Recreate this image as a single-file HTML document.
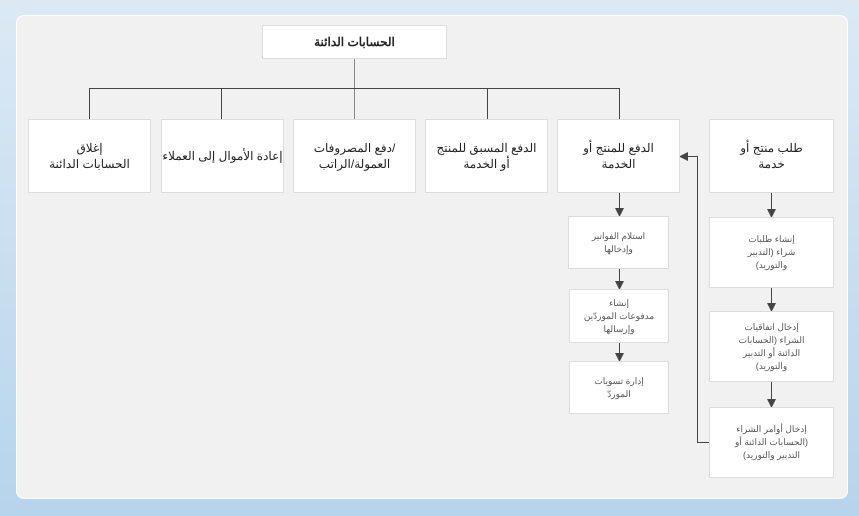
<!DOCTYPE html>
<html><head><meta charset="utf-8"><style>
body{margin:0;width:859px;height:516px;overflow:hidden;background:linear-gradient(#dce9f5,#b6d4ec);position:relative;font-family:"Liberation Sans","Noto Sans CJK SC",sans-serif}
#panel{position:absolute;left:16px;top:15px;width:830px;height:482px;background:#f1f1f1;border:1px solid #fff;border-radius:8px}
.b{position:absolute;background:#fff;border:1px solid #dcdcdc;box-sizing:border-box;display:flex;align-items:center;justify-content:center;text-align:center;direction:rtl;font-size:12px;color:#222;line-height:16px}
.s{font-size:9px;color:#555;line-height:13px}
svg{position:absolute;left:0;top:0}
</style></head><body>
<div id="panel"></div>
<svg width="859" height="516">
<g stroke="#444" stroke-width="1" fill="none">
<line x1="354.5" y1="58" x2="354.5" y2="119" stroke="#888"/>
<line x1="89.5" y1="88.5" x2="619.5" y2="88.5"/>
<line x1="89.5" y1="88" x2="89.5" y2="119"/>
<line x1="221.5" y1="88" x2="221.5" y2="119"/>
<line x1="487.5" y1="88" x2="487.5" y2="119"/>
<line x1="619.5" y1="88" x2="619.5" y2="119"/>
<line x1="619.5" y1="192" x2="619.5" y2="210"/>
<line x1="619.5" y1="268" x2="619.5" y2="283"/>
<line x1="619.5" y1="342" x2="619.5" y2="355"/>
<line x1="771.5" y1="192" x2="771.5" y2="211"/>
<line x1="771.5" y1="287" x2="771.5" y2="305"/>
<line x1="771.5" y1="381" x2="771.5" y2="401"/>
<polyline points="709,442.5 697.5,442.5 697.5,156.5 686,156.5"/>
</g>
<g fill="#444">
<polygon points="615,208 624,208 619.5,217"/>
<polygon points="615,281 624,281 619.5,290"/>
<polygon points="615,353 624,353 619.5,362"/>
<polygon points="767,209 776,209 771.5,218"/>
<polygon points="767,303 776,303 771.5,312"/>
<polygon points="767,399 776,399 771.5,408"/>
<polygon points="679,156.5 688,152 688,161"/>
</g>
</svg>
<div class="b" style="left:262px;top:25px;width:185px;height:34px;font-weight:bold">الحسابات الدائنة</div>
<div class="b" style="left:28px;top:119px;width:123px;height:74px">إغلاق<br>الحسابات الدائنة</div>
<div class="b" style="left:161px;top:119px;width:123px;height:74px">إعادة الأموال إلى العملاء</div>
<div class="b" style="left:293px;top:119px;width:123px;height:74px">/دفع المصروفات<br>العمولة/الراتب</div>
<div class="b" style="left:425px;top:119px;width:123px;height:74px">الدفع المسبق للمنتج<br>أو الخدمة</div>
<div class="b" style="left:557px;top:119px;width:123px;height:74px">الدفع للمنتج أو<br>الخدمة</div>
<div class="b" style="left:709px;top:119px;width:125px;height:74px">طلب منتج أو<br>خدمة</div>
<div class="b s" style="left:568px;top:216px;width:101px;height:53px">استلام الفواتير<br>وإدخالها</div>
<div class="b s" style="left:569px;top:289px;width:100px;height:54px">إنشاء<br>مدفوعات الموردّين<br>وإرسالها</div>
<div class="b s" style="left:569px;top:361px;width:100px;height:53px">إدارة تسويات<br>الموردّ</div>
<div class="b s" style="left:709px;top:217px;width:125px;height:71px">إنشاء طلبات<br>شراء (التدبير<br>والتوريد)</div>
<div class="b s" style="left:709px;top:311px;width:125px;height:71px">إدخال اتفاقيات<br>الشراء (الحسابات<br>الدائنة أو التدبير<br>والتوريد)</div>
<div class="b s" style="left:709px;top:407px;width:125px;height:71px">إدخال أوامر الشراء<br>(الحسابات الدائنة أو<br>التدبير والتوريد)</div>
</body></html>
